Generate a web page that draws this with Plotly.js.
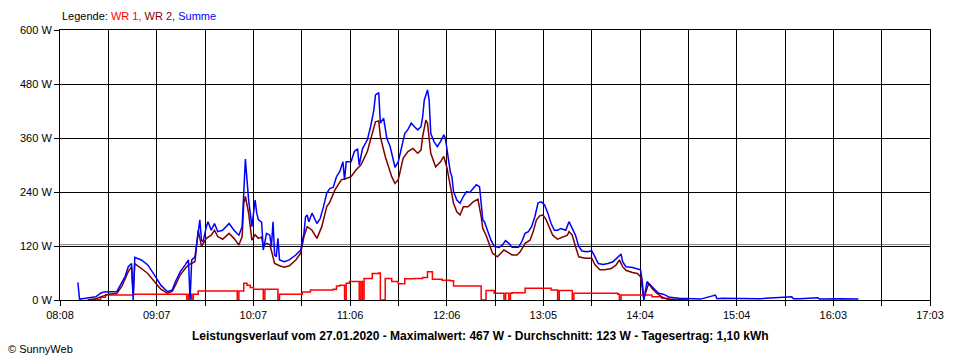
<!DOCTYPE html>
<html>
<head>
<meta charset="utf-8">
<script src="https://cdn.plot.ly/plotly-3.0.1.min.js"></script>
<style>
  html, body { margin: 0; padding: 0; background: #ffffff; }
  #chart { width: 960px; height: 360px; }
</style>
</head>
<body>
<div id="chart"></div>
<script>
// ---- data ----
const day = '2020-01-27';
const avgValue = 123;   // Durchschnitt
const tickLabels = ["08:08","09:07","10:07","11:06","12:06","13:05","14:04","15:04","16:03","17:03"];
const yTicks = [0, 120, 240, 360, 480, 600];

// Summe (blue)
const tSumme = ["08:19","08:20","08:24","08:30","08:33","08:35","08:43","08:44","08:46","08:48","08:50","08:52","08:53","08:54","08:58","09:02","09:06","09:10","09:14","09:17","09:19","09:22","09:25","09:27","09:28","09:29","09:31","09:33","09:34","09:35","09:36","09:38","09:39","09:41","09:43","09:45","09:48","09:52","09:55","09:58","10:00","10:01","10:02","10:04","10:06","10:08","10:09","10:10","10:12","10:13","10:15","10:17","10:18","10:19","10:20","10:21","10:22","10:23","10:26","10:29","10:33","10:36","10:38","10:39","10:40","10:41","10:43","10:46","10:48","10:50","10:52","10:54","10:56","10:58","11:00","11:02","11:03","11:04","11:07","11:09","11:11","11:12","11:14","11:17","11:19","11:21","11:22","11:24","11:25","11:27","11:29","11:31","11:33","11:34","11:36","11:38","11:40","11:42","11:44","11:46","11:48","11:50","11:51","11:52","11:54","11:55","11:56","11:58","12:00","12:02","12:04","12:05","12:06","12:08","12:09","12:10","12:12","12:14","12:16","12:18","12:20","12:22","12:24","12:26","12:27","12:28","12:29","12:31","12:33","12:35","12:38","12:40","12:42","12:44","12:46","12:50","12:52","12:54","12:56","12:58","13:00","13:02","13:04","13:06","13:08","13:10","13:12","13:14","13:16","13:19","13:21","13:23","13:25","13:27","13:29","13:32","13:35","13:37","13:39","13:42","13:45","13:48","13:51","13:53","13:54","13:56","14:00","14:03","14:05","14:06","14:07","14:09","14:10","14:13","14:16","14:19","14:23","14:29","14:35","14:42","14:51","14:52","14:55","15:06","15:18","15:38","15:39","15:43","15:54","15:55","16:08","16:19"];
const vSumme = [39,2,4,7,15,18,19,26,41,52,74,81,0,95,89,78,56,33,19,22,41,63,78,89,0,89,96,148,178,133,129,163,174,155,170,152,155,170,155,144,163,237,313,222,163,222,193,178,173,111,148,144,119,174,100,96,137,89,85,89,100,111,148,185,189,174,193,170,181,207,237,248,250,274,285,307,267,307,307,330,336,300,336,356,385,422,456,461,393,404,359,341,307,295,307,341,370,379,393,385,378,385,407,444,467,444,370,352,341,352,367,359,330,285,274,241,222,215,230,241,239,248,256,252,211,178,174,155,133,119,117,122,132,126,117,117,130,148,152,163,185,216,218,211,193,170,155,155,159,155,174,159,144,119,109,107,109,96,81,79,81,85,96,102,85,74,72,70,67,44,0,41,37,26,15,13,6,4,3,2,11,3,4,4,3,7,3,3,5,2,3,2];

// WR 2 (dark red)
const tWR2 = ["08:25","08:30","08:33","08:38","08:43","08:46","08:50","08:52","08:53","08:54","08:58","09:02","09:06","09:10","09:14","09:17","09:19","09:22","09:25","09:27","09:31","09:33","09:35","09:38","09:41","09:43","09:45","09:48","09:52","09:55","09:58","10:00","10:01","10:02","10:04","10:06","10:08","10:10","10:12","10:13","10:15","10:17","10:18","10:20","10:23","10:26","10:29","10:33","10:36","10:38","10:40","10:43","10:46","10:49","10:52","10:54","10:57","11:01","11:04","11:07","11:10","11:13","11:17","11:20","11:22","11:24","11:25","11:28","11:30","11:32","11:34","11:36","11:39","11:42","11:45","11:48","11:50","11:51","11:53","11:54","11:56","11:59","12:02","12:04","12:06","12:08","12:10","12:12","12:14","12:16","12:19","12:22","12:25","12:27","12:28","12:30","12:32","12:34","12:37","12:39","12:41","12:43","12:46","12:49","12:51","12:54","12:57","12:59","13:01","13:03","13:05","13:07","13:09","13:11","13:14","13:17","13:20","13:21","13:23","13:25","13:27","13:31","13:35","13:37","13:40","13:43","13:47","13:50","13:52","13:54","13:56","14:00","14:03","14:05","14:07","14:10","14:12","14:15","14:18","14:21","14:33","14:35"];
const vWR2 = [0,3,7,13,15,30,63,74,10,81,70,59,41,24,15,19,33,56,70,78,85,155,119,137,144,155,141,135,148,137,122,141,215,230,193,133,145,137,140,119,126,123,110,81,76,73,76,89,104,141,163,155,137,163,207,218,244,267,270,274,289,300,330,367,396,398,363,319,296,274,259,267,315,330,337,326,333,363,400,393,326,296,307,319,293,252,215,196,189,207,207,218,224,185,159,144,122,104,96,104,111,107,100,100,107,126,133,152,178,187,189,178,159,144,135,139,144,152,144,119,96,93,93,78,67,67,70,78,89,74,66,61,59,52,3,37,26,15,7,2,1,0];

// WR 1 (red)
const tWR1 = ["08:28","08:33","08:36","08:52","08:53","09:26","09:27","09:29","09:30","09:33","09:40","09:57","09:58","10:01","10:03","10:05","10:07","10:13","10:14","10:22","10:23","10:37","10:42","10:56","10:58","11:00","11:03","11:04","11:06","11:12","11:13","11:14","11:15","11:20","11:24","11:25","11:28","11:32","11:36","11:40","11:46","11:51","11:54","11:57","12:03","12:08","12:10","12:27","12:30","12:35","12:41","12:42","12:44","12:45","12:46","12:54","13:05","13:10","13:14","13:15","13:23","13:24","13:27","13:51","13:52","13:53","14:05","14:06","14:12","14:18","14:22","14:23"];
const vWR1 = [1,6,11,11,13,0,13,0,13,20,20,0,20,37,33,28,24,0,24,0,13,18,22,24,31,33,0,37,41,0,41,0,48,59,60,0,48,41,36,47,48,50,63,46,44,43,31,0,21,15,0,15,0,15,16,26,26,22,0,21,0,15,15,13,0,11,11,11,7,4,1,0];

// ---- chart ----
const toX = arr => arr.map(t => day + ' ' + t);
const xStart = Date.UTC(2020, 0, 27, 8, 8);
const xEnd = Date.UTC(2020, 0, 27, 17, 3);
const nInt = (tickLabels.length - 1) * 2;
const tickvals = [], ticktext = [];
for (let i = 0; i <= nInt; i++) {
  tickvals.push(xStart + (xEnd - xStart) * i / nInt);
  ticktext.push(i % 2 === 0 ? tickLabels[i / 2] : '');
}

const FONT = 'Liberation Sans, Arial, sans-serif';
const lineW = 1.5;

const traces = [
  { x: toX(tWR1), y: vWR1, type: 'scatter', mode: 'lines', line: { color: '#ff0000', width: lineW, shape: 'hv' }, name: 'WR 1' },
  { x: toX(tWR2), y: vWR2, type: 'scatter', mode: 'lines', line: { color: '#800000', width: lineW, shape: 'linear' }, name: 'WR 2' },
  { x: toX(tSumme), y: vSumme, type: 'scatter', mode: 'lines', line: { color: '#0000ff', width: lineW, shape: 'linear' }, name: 'Summe' }
];

const layout = {
  width: 960, height: 360,
  margin: { l: 60, r: 30, t: 30, b: 60 },
  paper_bgcolor: '#ffffff', plot_bgcolor: '#ffffff',
  showlegend: false,
  hovermode: false,
  font: { family: FONT, size: 11, color: '#000000' },
  xaxis: {
    type: 'date',
    range: [xStart, xEnd],
    tickmode: 'array', tickvals: tickvals, ticktext: ticktext,
    showgrid: true, gridcolor: '#000000', gridwidth: 1,
    showline: true, linecolor: '#000000', linewidth: 1, mirror: true,
    ticks: 'outside', ticklen: 5, tickcolor: '#000000', tickwidth: 1,
    tickfont: { family: FONT, size: 11, color: '#000000' },
    zeroline: false, fixedrange: true
  },
  yaxis: {
    range: [0, 600],
    tickmode: 'array', tickvals: yTicks, ticktext: yTicks.map(v => v + ' W'),
    showgrid: true, gridcolor: '#000000', gridwidth: 1,
    showline: true, linecolor: '#000000', linewidth: 1, mirror: true,
    ticks: 'outside', ticklen: 5, tickcolor: '#000000', tickwidth: 1,
    tickfont: { family: FONT, size: 11, color: '#000000' },
    zeroline: false, fixedrange: true
  },
  shapes: [
    { type: 'line', xref: 'paper', x0: 0, x1: 1, yref: 'y', y0: avgValue, y1: avgValue,
      line: { color: '#808080', width: 1 }, layer: 'between' }
  ],
  annotations: [
    { xref: 'paper', yref: 'paper', x: 0, y: 1.052, xanchor: 'left', yanchor: 'middle', showarrow: false,
      font: { family: FONT, size: 11, color: '#000000' },
      text: 'Legende: <span style="color:#ff0000">WR 1,</span> <span style="color:#800000">WR 2,</span> <span style="color:#0000ff">Summe</span>' },
    { xref: 'paper', yref: 'paper', x: 0.483, y: -0.133, xanchor: 'center', yanchor: 'middle', showarrow: false,
      font: { family: FONT, size: 12, color: '#000000' },
      text: '<b>Leistungsverlauf vom 27.01.2020 - Maximalwert: 467 W - Durchschnitt: ' + avgValue + ' W - Tagesertrag: 1,10 kWh</b>' },
    { xref: 'paper', yref: 'paper', x: -0.062, y: -0.181, xanchor: 'left', yanchor: 'middle', showarrow: false,
      font: { family: FONT, size: 11, color: '#000000' },
      text: '© SunnyWeb' }
  ]
};

Plotly.newPlot('chart', traces, layout, { displayModeBar: false, staticPlot: true });
</script>
</body>
</html>
